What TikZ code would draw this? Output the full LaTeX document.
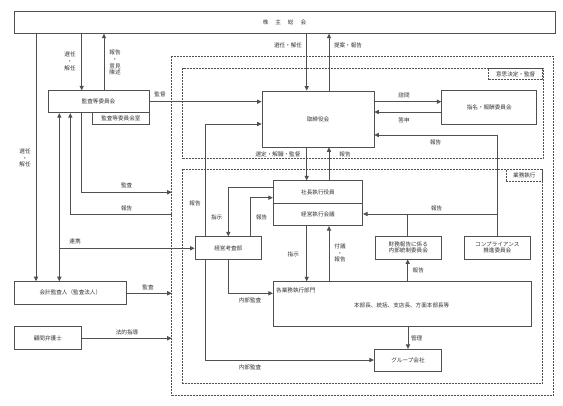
\documentclass[tikz,border=0pt]{standalone}
\usepackage{fontspec}
\newfontfamily\jp{Noto Sans CJK JP}
\usetikzlibrary{arrows.meta}
\definecolor{ln}{HTML}{505050}
\definecolor{tx}{HTML}{333333}
\begin{document}
\begin{tikzpicture}[x=1pt,y=-1pt,
  every node/.style={font=\jp\fontsize{5.6}{7}\selectfont,text=tx,inner sep=0pt},
  box/.style={draw=ln,line width=0.8pt,fill=white,anchor=center},
  dbox/.style={draw=ln,line width=0.7pt,dash pattern=on 2pt off 1pt},
  ln/.style={draw=ln,line width=0.8pt},
  arr/.style={ln,-{Triangle[length=4.5pt,width=4.2pt]}},
  darr/.style={ln,{Triangle[length=4.5pt,width=4.2pt]}-{Triangle[length=4.5pt,width=4.2pt]}},
  lab/.style={align=center,font=\jp\fontsize{5.6}{6.8}\selectfont}]
\useasboundingbox[fill=white] (0,0) rectangle (563,406);
% dashed frames
\draw[dbox] (171.7,56) rectangle (553.3,395);
\draw[dbox] (182.7,68.3) rectangle (543,158.3);
\draw[dbox] (182.7,169.3) rectangle (542.7,383.3);
\node[dbox,minimum width=54pt,minimum height=11.2pt,anchor=north east] (lab1) at (543,68.3) {意思決定・監督};
\node[dbox,minimum width=36pt,minimum height=11.4pt,anchor=north east] (lab2) at (542.7,169.3) {業務執行};
% boxes
\node[box,minimum width=541pt,minimum height=21.6pt] (kabu) at (284.5,22.5) {株\hspace{7pt}主\hspace{7pt}総\hspace{7pt}会};
\node[box,minimum width=101pt,minimum height=22pt] (kansa) at (98.5,101.7) {監査等委員会};
\node[box,minimum width=56.3pt,minimum height=11.6pt] (kshitsu) at (120.85,118.5) {監査等委員会室};
\node[box,minimum width=112pt,minimum height=56pt] (tori) at (318,119) {取締役会};
\node[box,minimum width=95pt,minimum height=33.3pt] (shimei) at (489.2,107.3) {指名・報酬委員会};
\node[box,minimum width=89.4pt,minimum height=22.6pt] (shacho) at (318,192) {社長執行役員};
\node[box,minimum width=89.4pt,minimum height=22.4pt] (kaigi) at (318,214.5) {経営執行会議};
\node[box,minimum width=66.7pt,minimum height=22.6pt] (kosa) at (228.3,248) {経営考査部};
\node[box,minimum width=66.7pt,minimum height=23pt,align=center] (zaimu) at (408.3,247.5) {財務報告に係る\\[-0.5pt]内部統制委員会};
\node[box,minimum width=66.7pt,minimum height=23pt,align=center] (comp) at (497.3,247.5) {コンプライアンス\\[-0.5pt]推進委員会};
\node[box,minimum width=258.4pt,minimum height=45pt] (gyomu) at (402.5,304.2) {};
\node[anchor=west] (gyomut) at (276,290) {各業務執行部門};
\node (gyomud) at (401.7,305) {本部長、統括、支店長、方面本部長等};
\node[box,minimum width=67.4pt,minimum height=22.4pt] (group) at (408,360.5) {グループ会社};
\node[box,minimum width=112.7pt,minimum height=22.3pt] (kaikei) at (70.35,292.8) {会計監査人（監査法人）};
\node[box,minimum width=67.7pt,minimum height=22.6pt] (komon) at (47.85,338) {顧問弁護士};
% reference coordinates
\coordinate (xa) at (81.7,0);
\coordinate (xb) at (104,0);
\coordinate (xc) at (36,0);
\coordinate (xd) at (306.7,0);
\coordinate (xe) at (329,0);
\coordinate (xf) at (59.3,0);
\coordinate (xg) at (70.3,0);
\coordinate (xh) at (205.7,0);
\coordinate (xi) at (228.3,0);
\coordinate (xj) at (250.7,0);
\coordinate (xk) at (407.7,0);
\coordinate (xl) at (497.3,0);
\coordinate (outL) at (171.7,0);
% connectors
\draw[arr] (kabu.south -| xa) -- (kansa.north -| xa);
\draw[arr] (kansa.north -| xb) -- (kabu.south -| xb);
\draw[arr] (kabu.south -| xc) -- (kaikei.north -| xc);
\draw[arr] (kansa.east |- 0,101.7) -- (tori.west |- 0,101.7);
\draw[arr] (kabu.south -| xd) -- (tori.north -| xd);
\draw[arr] (tori.north -| xe) -- (kabu.south -| xe);
\draw[arr] (tori.east |- 0,101.7) -- (shimei.west |- 0,101.7);
\draw[arr] (shimei.west |- 0,112) -- (tori.east |- 0,112);
\draw[arr] (comp.north -| xl) -- (xl |- 0,135) -- (tori.east |- 0,135);
\draw[arr] (xl |- 0,214) -- (kaigi.east |- 0,214);
\draw[ln] (zaimu.north -| xk) -- (xk |- 0,214);
\draw[arr] (tori.south -| xd) -- (shacho.north -| xd);
\draw[arr] (shacho.north -| xe) -- (tori.south -| xe);
\draw[arr] (kansa.south -| xa) -- (xa |- 0,192.3) -- (outL |- 0,192.3);
\draw[arr] (outL |- 0,214) -- (xg |- 0,214) -- (kansa.south -| xg);
\draw[darr] (kansa.south -| xf) -- (kaikei.north -| xf);
\draw[arr] (xf |- 0,248.3) -- (kosa.west |- 0,248.3);
\draw[arr] (kaikei.east |- 0,293.3) -- (outL |- 0,293.3);
\draw[arr] (komon.east |- 0,338.3) -- (outL |- 0,338.3);
\draw[arr] (kosa.north -| xh) -- (xh |- 0,124) -- (tori.west |- 0,124);
\draw[arr] (shacho.west |- 0,187.3) -- (xi |- 0,187.3) -- (kosa.north -| xi);
\draw[arr] (kosa.north -| xj) -- (xj |- 0,197.7) -- (shacho.west |- 0,197.7);
\draw[arr] (kosa.south -| xi) -- (xi |- 0,293.3) -- (gyomu.west |- 0,293.3);
\draw[arr] (kosa.south -| xh) -- (xh |- 0,360) -- (group.west |- 0,360);
\draw[arr] (kaigi.south -| xd) -- (gyomu.north -| xd);
\draw[arr] (gyomu.north -| xe) -- (kaigi.south -| xe);
\draw[arr] (gyomu.north -| xk) -- (zaimu.south -| xk);
\draw[arr] (gyomu.south -| group) -- (group.north);
% labels
\node[lab] (l1) at (70,61.5) {選任\\・\\解任};
\node[lab] (l2) at (115,62.5) {報告\\・\\意見\\陳述};
\node[lab] (l3) at (25,158) {選任\\・\\解任};
\node (l4) at (160,94) {監督};
\node (l5) at (288,45) {選任・解任};
\node (l6) at (348,45) {提案・報告};
\node (l7) at (404,95.7) {諮問};
\node (l8) at (404,120.7) {答申};
\node (l9) at (435.7,142) {報告};
\node (l10) at (436.7,208.3) {報告};
\node (l11) at (278,154) {選定・解職・監督};
\node (l12) at (345,154) {報告};
\node (l13) at (126.7,185.7) {監査};
\node (l14) at (126.7,208) {報告};
\node (l15) at (75,241.7) {連携};
\node (l16) at (148,287) {監査};
\node (l17) at (127,332.7) {法的指導};
\node (l18) at (195,203) {報告};
\node (l19) at (216.7,217.3) {指示};
\node (l20) at (261.7,217.3) {報告};
\node (l21) at (250,300) {内部監査};
\node (l22) at (250,367.3) {内部監査};
\node (l23) at (293.3,254.3) {指示};
\node[lab] (l24) at (340,253) {付議\\・\\報告};
\node (l25) at (418.3,270) {報告};
\node (l26) at (416.7,338.3) {管理};
\end{tikzpicture}
\end{document}
